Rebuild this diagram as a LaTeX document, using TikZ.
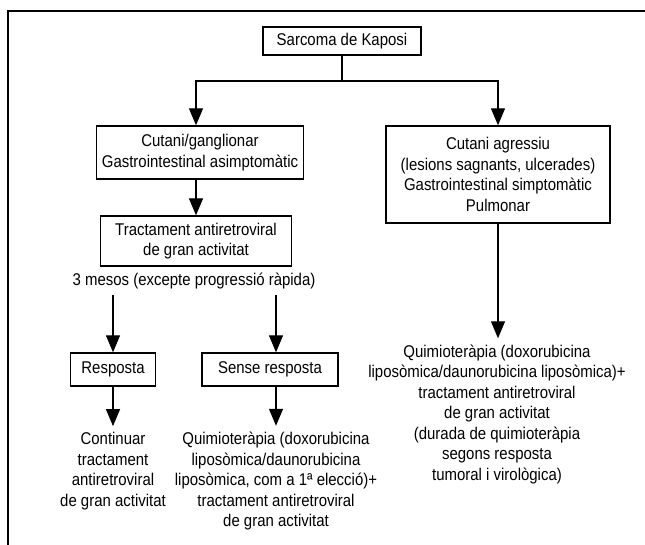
\documentclass[tikz,border=0pt]{standalone}
\usepackage{fontspec}
\setmainfont{Liberation Sans}[FakeStretch=0.88]
\usetikzlibrary{positioning,arrows.meta}

\begin{document}
\begin{tikzpicture}[
  x=1pt, y=-1pt,
  font=\fontsize{17}{20.5}\selectfont,
  box/.style={draw, line width=1.4pt, align=center, inner sep=0pt},
  txt/.style={align=center, inner xsep=0pt, inner ysep=6pt},
  flow/.style={-{Triangle[length=17pt,width=14pt]}, line width=1.2pt},
  link/.style={line width=1.2pt}
]
\useasboundingbox (0,0) rectangle (645,544);
% Outer frame (cut at right and bottom)
\draw[line width=2.2pt] (8,560) -- (8,11) -- (660,11);
% Top and first level
\node[box, minimum width=158pt, minimum height=28pt] (kaposi) at (342,41) {Sarcoma de Kaposi};
\node[box, minimum width=207pt, minimum height=53pt] (cutA) at (200,152.5) {Cutani/ganglionar\\Gastrointestinal asimptomàtic};
\node[box, minimum width=224pt, minimum height=97pt] (cutB) at (498,174.5) {Cutani agressiu\\(lesions sagnants, ulcerades)\\Gastrointestinal simptomàtic\\Pulmonar};
% Left lane
\node[box, minimum width=191pt, minimum height=50pt] (tract) at (196,241) {Tractament antiretroviral\\de gran activitat};
\node[txt] (mesos) at (194,281) {3 mesos (excepte progressió ràpida)};
\node[box, minimum width=85pt, minimum height=33pt] (resp) at (113,369.5) {Resposta};
\node[box, minimum width=136pt, minimum height=33pt] (sense) at (270,369.5) {Sense resposta};
\node[txt] (cont) at (113,471) {Continuar\\tractament\\antiretroviral\\de gran activitat};
\node[txt] (quimA) at (276,481) {Quimioteràpia (doxorubicina\\liposòmica/daunorubicina\\liposòmica, com a 1ª elecció)+\\tractament antiretroviral\\de gran activitat};
% Right lane
\node[txt] (quimB) at (497,414) {Quimioteràpia (doxorubicina\\liposòmica/daunorubicina liposòmica)+\\tractament antiretroviral\\de gran activitat\\(durada de quimioteràpia\\segons resposta\\tumoral i virològica)};
% Edges
\coordinate (split) at (342,81);
\draw[link] (kaposi) -- (split);
\draw[flow] (split) -| (tract.north |- cutA.north);
\draw[flow] (split) -| (cutB.north);
\draw[flow] (tract.north |- cutA.south) -- (tract.north);
\draw[flow] (cutB) -- (cutB.south |- quimB.north);
\draw[flow] (resp.north |- mesos.south) -- (resp.north);
\draw[flow] (quimA.north |- mesos.south) -- (quimA.north |- sense.north);
\draw[flow] (resp) -- (cont);
\draw[flow] (quimA.north |- sense.south) -- (quimA.north);
\end{tikzpicture}
\end{document}
